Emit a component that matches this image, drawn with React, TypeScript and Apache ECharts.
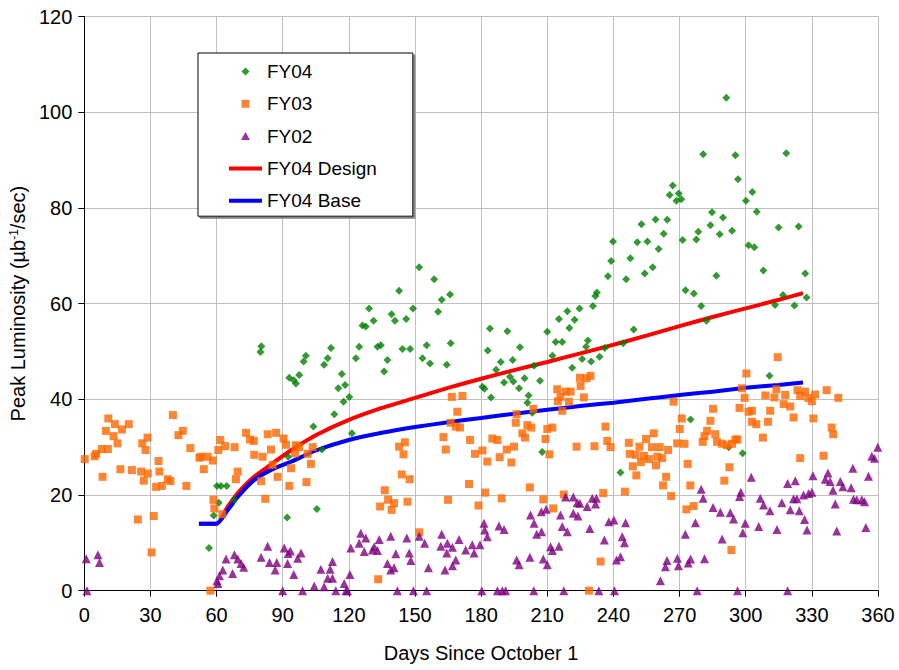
import React, { useEffect, useRef } from "react";
import * as echarts from "echarts";

// [day, peak luminosity]
const fy04: [number, number][] = [
  [56.6, 8.9], [58.7, 15.7], [60.2, 21.9], [62, 21.9], [64.6, 21.9], [61, 18.4], [68, 19],
  [79.9, 49.9], [80.3, 51.1],
  [92, 15.3], [92.5, 28], [93, 44.5], [96, 43.3], [97.5, 45.1], [95, 44], [99.5, 47.9], [100.5, 49.1],
  [103.9, 34.3], [105.5, 17.1], [107.8, 29.5], [108.8, 47.2], [110.4, 48.6], [111.9, 50.7], [113.4, 36.9],
  [115.2, 42.3], [116.8, 45.3], [117.6, 39.5], [118.3, 43], [120.2, 40.5], [121.4, 32.9], [123.2, 48.6], [124.7, 51],
  [126.2, 55.4], [127.7, 55.2], [129.2, 59], [131.2, 56.4], [133, 51], [134.5, 51.3], [136, 45.8], [137.5, 48.2],
  [139.4, 57.8], [140.9, 56.4], [142.8, 62.7], [144.3, 50.5], [146, 56.8], [147.8, 50.5], [149.1, 59],
  [151.9, 67.6], [153.4, 48.6], [155.3, 51.3], [156.8, 47.5], [158.7, 65.1], [160.5, 58.3], [162.1, 60.8],
  [164.4, 47.2], [165.9, 61.9], [166.2, 51.7],
  [180.6, 42.6], [181.5, 42.2], [183, 50.2], [184.5, 40.4], [184, 54.8], [186.8, 46.2], [188.9, 47.8],
  [190.4, 43.5], [191.9, 54.2], [193.1, 44.7], [194.3, 48.2], [194.6, 43.7], [197.2, 42.3], [197.6, 50.9],
  [199.7, 44.4], [201.5, 40.8], [201, 39.3], [203.2, 37.2], [204, 47], [206.7, 43.9], [207.7, 29],
  [210, 54.1], [212.3, 49.1], [213.8, 52], [215.3, 56.8], [216.8, 52], [219.1, 58.4], [220, 54.9],
  [221.3, 46.6], [222.4, 56.6], [224.6, 59], [225.8, 48.4], [227.6, 51], [228.4, 52.3], [229.9, 47.9],
  [230.7, 59.5], [231.8, 61.6], [232.5, 62.3], [233.7, 48.9], [236.1, 50.7], [237.5, 65.7], [239, 68.9],
  [239.8, 73], [243.2, 24.7], [244.4, 51.7], [245.8, 65.1], [247.7, 69.5], [249.2, 54.6], [250.8, 72.8],
  [252.7, 76.6], [254.2, 66.3], [255.4, 73], [257.8, 67.6], [259.1, 77.6], [260.5, 71.4], [262.8, 74.6],
  [264.4, 77.5], [265.5, 82.7], [266.9, 84.7], [268.6, 81.5], [269.6, 83], [270.8, 81.8], [271.4, 73.3],
  [272.7, 62.8], [275, 35.8], [276.5, 62.1], [277.6, 73.4], [278.5, 75], [279.8, 59.5], [280.7, 91.2],
  [282.2, 56.4], [284, 76.4], [284.7, 79.1], [286.7, 65.8], [288.2, 74.5], [289.7, 78], [291.2, 103],
  [292.3, 30], [293.8, 75.2], [295.3, 91], [296.5, 86], [298.6, 28.7], [300.1, 81.5], [301.3, 72.2],
  [303, 83.3], [303.9, 71.8], [305, 79.2], [308, 66.9], [310.8, 44.9], [313.3, 59.7], [314.9, 75.9],
  [316.9, 61.8], [318.4, 91.4], [322.1, 59.6], [324, 76.1], [327, 66.3], [327.6, 61.3],
];

const fy03: [number, number][] = [
  [0.2, 27.5], [4.7, 28.1], [5.4, 28.6], [8, 29.6], [8.3, 23.8], [9.8, 33.4], [10.7, 29.6], [10.9, 36],
  [13.3, 32.3], [13.9, 34.8], [15.1, 30.8], [16.4, 25.4], [17.1, 33.7], [20.2, 34.8], [21.6, 25.2],
  [24.3, 14.9], [25.8, 24.9], [26.3, 30.8], [27, 23], [27.8, 29.4], [28.7, 32], [28.8, 24.5], [30.5, 8],
  [31.5, 15.6], [32.6, 21.7], [33.7, 27.1], [34.1, 24.9], [35.2, 21.9], [37.9, 23.3], [39.1, 22.9],
  [40.2, 36.7], [42.7, 32.5], [44.7, 33.4], [46.3, 21.9], [48.1, 29.8], [52.2, 27.8], [53, 28], [54.2, 25.4],
  [56, 28], [57.2, 0], [58.3, 27.2], [58.6, 19], [59, 17.2], [60.8, 29.4], [61.7, 31.5], [62.6, 16],
  [63.9, 30.2], [68.2, 30], [68.8, 23.3], [69.6, 24.9], [73.4, 33], [75.2, 31.6], [76.9, 31.3], [77.1, 28.4],
  [80.2, 22.9], [80.9, 28], [82.1, 19.2], [83.2, 32.7], [84.7, 29.5], [85.5, 26.3], [87, 33], [87.7, 23.8],
  [90.4, 31.8], [91.5, 30.5], [93, 21.9], [93.8, 25.6], [95.6, 28.7], [96, 30.4], [97.5, 30], [100.8, 22.7],
  [101.3, 28.6], [102.8, 26.5], [103.6, 30],
  [133.3, 2.4], [134.2, 17.6], [136.3, 21], [137.8, 19], [139.4, 16.9], [140.5, 18.3], [142.8, 30.1],
  [144, 24.3], [144.8, 28.5], [145.4, 31], [146.6, 18.6], [147.6, 23.3], [151.9, 12.2],
  [162.9, 32.1], [164, 29.5], [165, 19], [166.2, 35.1], [166.7, 40.5], [168.5, 34.3], [169.2, 37.4],
  [170.4, 34.1], [171.5, 40.7], [174.5, 22.3], [175, 31.5], [177.2, 28.6], [178.8, 17.8], [180.6, 29.3],
  [181.8, 20.5], [182.8, 27],
  [185.1, 31.8], [187.4, 31.5], [188.4, 27.9], [189.3, 19.3], [191.6, 29.5], [193.7, 26.8], [194.9, 30.1],
  [195.7, 35.1], [196.1, 36.9], [198.7, 32.9], [199.9, 32], [201, 34.6], [202.1, 21.6], [202.7, 34.1],
  [203.7, 38], [208.2, 19.1], [209.2, 31.7], [210, 33.8], [211, 28.5], [212.3, 34.1], [212.7, 17.2],
  [214.5, 42.1], [214.8, 39.6], [216, 40.5], [216.8, 37.6], [217.5, 20.1], [218.3, 41.6], [219.8, 39.5],
  [220.6, 41.6], [223.3, 30.1], [224.8, 44.5], [225.1, 42.8], [226.6, 40.4], [227.8, 44.4], [228.9, 0],
  [229.6, 44.9], [231.4, 30.2], [234.2, 6.1], [235.4, 20.4], [236.4, 34.3], [237.2, 31.3], [238.7, 30],
  [245.2, 20.7], [247, 30.9], [247.4, 28.6], [248.8, 26], [250, 28.4], [250.4, 24.1], [251.8, 30.1],
  [252.5, 26.9], [253.8, 28.2], [254.8, 31.7], [256.1, 27.5], [257.5, 30], [258.3, 32.9], [259.3, 26.2],
  [259.9, 28], [261, 30], [262.1, 27.7], [262.5, 22], [263.9, 23.8], [264.8, 29.4], [266.2, 19.8],
  [267.3, 39.5], [268.9, 30.8], [270.1, 33.8], [271, 36], [272.2, 30.7], [273.1, 17], [273.7, 26.5],
  [274.9, 22], [276.4, 17.7],
  [280.5, 31.1], [281.3, 32.3], [282.5, 33.4], [284, 35.5], [285.2, 38], [286.2, 32.7], [287, 31.1],
  [289.3, 30.7], [290.3, 23], [291.5, 30.4], [292.6, 25.8], [293.5, 8.5], [293.8, 30.7], [295.3, 31.6],
  [296.3, 31.6], [297.2, 38.2], [298.3, 42.3], [299.5, 40.3], [300.3, 45.4], [301.3, 37.4], [302.8, 37.6],
  [302.8, 35.3], [304.8, 34.8], [307.8, 32], [308.9, 40.8], [310.1, 35.3], [311.1, 37.6], [313, 40.4],
  [313.9, 42.1], [314.5, 48.8], [317.2, 39], [317.9, 40.9], [320.2, 38.5], [321.7, 36.2], [323.5, 41.9],
  [324.7, 40.7], [324.7, 27.7], [326.9, 41.6], [328.4, 40.3], [330, 39.6], [330.7, 36], [331.5, 41],
  [335.3, 28.2], [336.7, 41.9], [339, 34.1], [339.7, 32.7], [342, 40.3],
];

const fy02: [number, number][] = [
  [0.9, 6.7], [1.2, 0], [6.2, 7.5], [6.9, 5.9], [60.2, 2.1], [60.6, 1.5], [61.3, 3.1], [62.8, 4.3],
  [64.3, 6.6], [67.3, 3.6], [68.1, 7.5], [69.6, 6.6], [71.1, 5.7], [72.3, 4.9], [80.2, 7], [83.2, 9.3],
  [84, 5.9], [86.6, 4.3], [87.3, 5.9], [90, 0], [90.7, 8.9], [92.2, 5.7], [93.5, 8.3], [92.5, 7.8],
  [95, 3.4], [96.8, 6.8], [98.3, 7.9], [99, 0], [104.3, 1], [107.3, 4.5], [108.8, 0.8], [110.4, 2.6],
  [111.5, 4.5], [112.6, 2.6], [112.6, 6.1], [114.1, 0], [117.9, 1.5], [118.7, 0], [119.4, 0], [120.5, 3.4],
  [120.9, 8.9], [124.7, 9.9], [125.4, 12], [127, 8.2], [127.7, 11], [130.7, 8.5], [131.5, 9.2], [133, 8.4],
  [133.8, 10.7], [137.5, 5.7], [139, 4.3], [139, 11.4], [140.5, 4.8], [141.3, 7.7], [142, 0], [146.3, 11],
  [147.4, 7.9], [148.1, 6.3], [149.3, 0], [151.9, 11.4], [154.4, 9.9], [155.3, 0], [156.1, 4.8],
  [161.7, 9.3], [162.1, 11.8], [163.6, 4.3], [164.4, 7.9], [164.7, 9.9], [167, 9.1], [167, 5.2],
  [168.5, 6.4], [170, 10.7], [173, 8.5], [176, 9.6], [176.8, 7.9], [179.5, 9.6], [180.3, 0], [181.3, 14.1],
  [181.6, 12.7], [182.8, 11.3],
  [188.1, 13.5], [190.4, 12.8], [187.4, 0], [189.6, 0], [191.1, 0], [196.1, 6.4], [197.2, 5.4], [202.1, 7],
  [202.4, 15.8], [203.9, 0], [204, 14.1], [205.2, 11.8], [207.3, 16.5], [207.4, 12.3], [208.2, 6.6],
  [209.5, 17], [210, 5.4], [211.5, 9.2], [212.3, 8.4], [215.3, 9.3], [216, 15.8], [216.8, 13.4], [217.5, 0],
  [218.3, 19.6], [219.1, 12.3], [221.8, 19.6], [221.8, 16.2], [223.6, 18.4], [223.9, 15.6], [224.8, 18.3],
  [228.1, 17.6], [229.3, 13], [230.4, 19.3], [231.9, 18.1], [232.3, 19.3], [233.4, 0], [235.9, 10.6],
  [237.9, 14.4], [240.2, 14.8], [240.5, 0], [241.4, 6.4], [243.2, 7.1], [244, 11.3], [245, 10], [245.5, 14.2],
  [261.3, 2.1], [263.6, 5], [264.3, 6.3], [269, 6.8], [269.5, 5.2], [272.6, 11.8], [273.9, 5.8], [275, 6.6],
  [277.2, 14.2], [278, 0], [279.8, 21.2], [280.7, 19.3], [281.3, 6.7], [285.2, 17.4], [288.5, 16.4],
  [289.3, 10.8], [293, 16.3], [294.5, 15], [296.3, 0], [297.2, 19.7], [297.8, 20.6], [298.7, 12.1],
  [299.8, 14.1], [302.5, 23.7], [305.9, 13.4], [306.6, 19.3], [308.1, 17.9], [311, 16.7], [314.2, 12.8],
  [316.4, 18.4], [319, 0], [319, 22.4], [320.2, 16.9], [321.7, 19.2], [322.5, 23], [323.2, 19.2],
  [324.3, 16.7], [326.2, 20], [326.7, 14.9], [327.8, 12.7], [328.5, 20.3], [330, 20.6], [330.5, 24],
  [336.1, 23.3], [337.3, 24.6], [338.3, 22.8], [339.6, 21], [340.6, 18.1], [341.3, 12.5], [342.9, 22.8],
  [344.1, 21.7], [347.8, 21.5], [348.6, 25.6], [348.9, 19.1], [350.4, 19], [352.7, 19], [353.9, 18.6],
  [354.5, 13.2], [355.7, 23.9], [357.2, 28.1], [358.4, 27.7], [359.9, 30],
];

const designDays = [52, 60, 65, 70, 77, 85, 94, 105, 120, 135, 150, 165, 180, 195, 210, 225, 240, 255, 270, 285, 300, 315, 326];
const designVals = [14, 14, 17.5, 20.6, 23.8, 26.5, 29.4, 32.5, 35.7, 38.2, 40.3, 42.4, 44.3, 46.1, 47.8, 49.6, 51.4, 53.3, 55.3, 57.2, 59, 60.8, 62.2];
const baseVals = [14, 14, 16.8, 19.8, 23.1, 25.3, 27, 29.3, 31.5, 33, 34.2, 35.2, 36.1, 37, 37.8, 38.6, 39.3, 40.1, 40.9, 41.6, 42.4, 43, 43.5];

const xTicks = { min: 0, max: 360, interval: 30 };
const yTicks = { min: 0, max: 120, interval: 20 };

const FONT = "Liberation Sans, Arial, sans-serif";
const LINE_ICON = "path://M0,0L33,0L33,4L0,4Z";
const DIAMOND_ICON = "path://M0,4L4,0L8,4L4,8Z";
const SQUARE_ICON = "path://M0,0L8,0L8,8L0,8Z";
const TRIANGLE_ICON = "path://M4,0L8.5,8L-0.5,8Z";

export default function App() {
  const ref = useRef<HTMLDivElement>(null);
  useEffect(() => {
    const chart = echarts.init(ref.current!, null, { renderer: "svg" });
    const axisCommon = {
      axisLine: { show: true, lineStyle: { color: "#000", width: 1 } },
      axisTick: { show: true, inside: false, length: 6, lineStyle: { color: "#000" } },
      splitLine: { show: true, lineStyle: { color: "#c0c0c0", width: 1 } },
      axisLabel: { color: "#000", fontSize: 20, fontFamily: FONT },
      nameTextStyle: { color: "#000", fontSize: 20, fontFamily: FONT },
    };
    chart.setOption({
      animation: false,
      backgroundColor: "#fff",
      textStyle: { fontFamily: FONT },
      grid: { left: 83, right: 21, top: 16.5, bottom: 79.3, containLabel: false },
      xAxis: {
        type: "value",
        ...xTicks,
        ...axisCommon,
        axisLabel: { ...axisCommon.axisLabel, margin: 14 },
        name: "Days Since October 1",
        nameLocation: "middle",
        nameGap: 52,
      },
      yAxis: {
        type: "value",
        ...yTicks,
        ...axisCommon,
        axisLabel: { ...axisCommon.axisLabel, margin: 12 },
        name: "Peak Luminosity (µb{sup|-1}/sec)",
        nameLocation: "middle",
        nameGap: 52,
        nameTextStyle: {
          ...axisCommon.nameTextStyle,
          rich: { sup: { fontSize: 12, fontFamily: FONT, color: "#000", verticalAlign: "top" } },
        },
      },
      legend: {
        orient: "vertical",
        left: 198,
        top: 53,
        itemWidth: 33,
        itemHeight: 8,
        itemGap: 13.3,
        padding: [9, 36, 6, 31],
        borderColor: "#000",
        borderWidth: 1,
        backgroundColor: "#fff",
        shadowColor: "#808080",
        shadowOffsetX: 2,
        shadowOffsetY: 2,
        shadowBlur: 0,
        textStyle: { color: "#000", fontSize: 19, fontFamily: FONT },
        data: [
          { name: "FY04", icon: DIAMOND_ICON },
          { name: "FY03", icon: SQUARE_ICON },
          { name: "FY02", icon: TRIANGLE_ICON },
          { name: "FY04 Design", icon: LINE_ICON },
          { name: "FY04 Base", icon: LINE_ICON },
        ],
      },
      series: [
        {
          name: "FY04 Design",
          type: "line",
          z: 1,
          data: designDays.map((d, i) => [d, designVals[i]]),
          symbol: "none",
          smooth: 0.2,
          lineStyle: { color: "#ff0000", width: 4 },
          itemStyle: { color: "#ff0000" },
        },
        {
          name: "FY04 Base",
          type: "line",
          z: 1,
          data: designDays.map((d, i) => [d, baseVals[i]]),
          symbol: "none",
          smooth: 0.2,
          lineStyle: { color: "#0000ff", width: 4 },
          itemStyle: { color: "#0000ff" },
        },
        {
          name: "FY04",
          type: "scatter",
          data: fy04,
          symbol: "diamond",
          symbolSize: 8,
          itemStyle: { color: "#008000" },
        },
        {
          name: "FY03",
          type: "scatter",
          data: fy03,
          symbol: "rect",
          symbolSize: 8,
          itemStyle: { color: "#ff6600" },
        },
        {
          name: "FY02",
          type: "scatter",
          data: fy02,
          symbol: "triangle",
          symbolSize: 9,
          itemStyle: { color: "#800080" },
        },
      ],
    });
    return () => chart.dispose();
  }, []);
  return (
    <div
      ref={ref}
      style={{ position: "absolute", left: 0, top: 0, width: 899, height: 670 }}
    />
  );
}
